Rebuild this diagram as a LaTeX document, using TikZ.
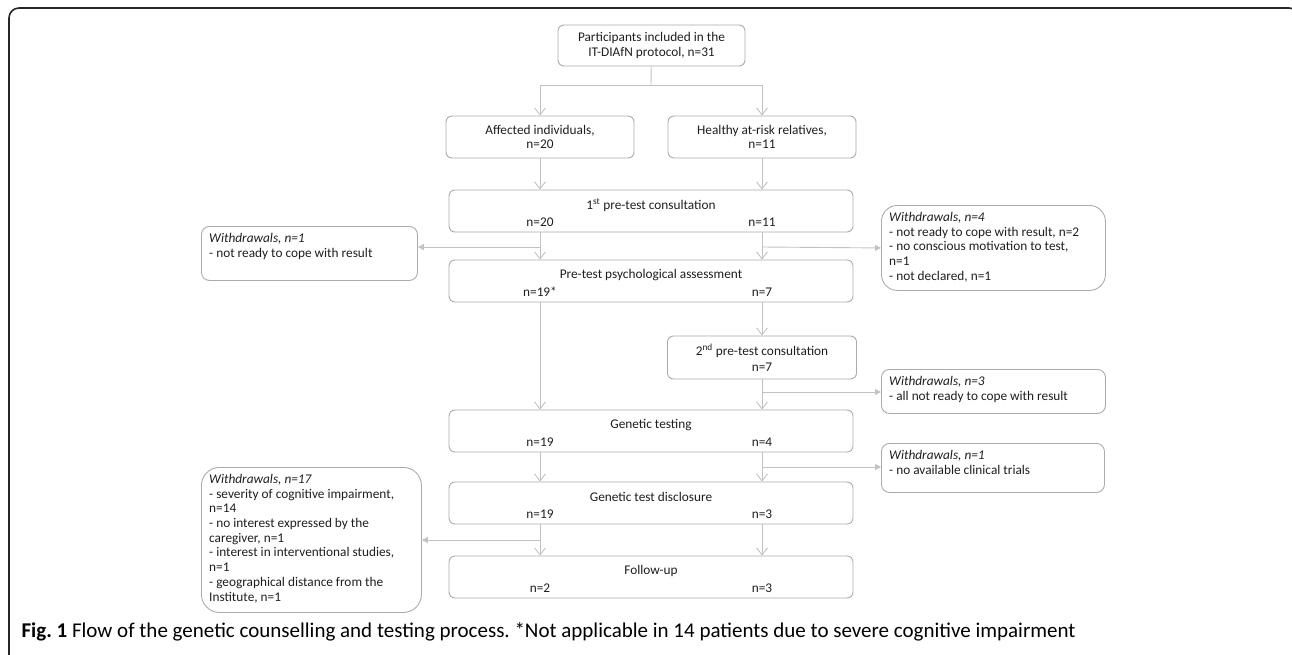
\documentclass[tikz,border=0pt]{standalone}
\usepackage{fontspec}
\setmainfont{Carlito}
\usetikzlibrary{arrows.meta}
\definecolor{boxgray}{HTML}{ABABAB}
\definecolor{linegray}{HTML}{C2C2C2}
\definecolor{textgray}{HTML}{1E1E1E}
\frenchspacing

\begin{document}
\begin{tikzpicture}[x=1pt,y=-1pt,
  every node/.style={font=\fontsize{13.3}{14.7}\selectfont,text=textgray},
  box/.style={draw=boxgray,line width=0.9pt,rounded corners=6pt,inner sep=0pt},
  wbox/.style={draw=boxgray,line width=0.9pt,rounded corners=8pt,inner sep=0pt,anchor=north west},
  wtext/.style={anchor=north west,align=left,inner sep=0pt},
  down/.style={draw=linegray,line width=0.9pt,-{Straight Barb[length=7pt,width=11pt]}},
  side/.style={draw=linegray,line width=0.9pt,-{Triangle[length=6pt,width=6pt]}},
  plain/.style={draw=linegray,line width=0.9pt}]
\useasboundingbox (0,0) rectangle (1292,655);
\draw[line width=1.6pt,black!85,rounded corners=10pt] (9,664) -- (9,8) -- (1299,8) -- (1299,664);

\node[box,minimum width=187pt,minimum height=41pt,align=center] (inc) at (651.5,45.5) {Participants included in the\\IT-DIAfN protocol, n=31};
\node[box,minimum width=188pt,minimum height=42pt,align=center] (aff) at (540,137) {Affected individuals,\\n=20};
\node[box,minimum width=188pt,minimum height=42pt,align=center] (hea) at (762,137) {Healthy at-risk relatives,\\n=11};

\node[box,minimum width=404pt,minimum height=42pt] (pc1) at (651,211) {};
\node (pc1t) at (651,205) {1\textsuperscript{st} pre-test consultation};
\node (pc1a) at (540,222) {n=20};
\node (pc1b) at (762,222) {n=11};

\node[box,minimum width=404pt,minimum height=42pt] (psy) at (651,281) {};
\node (psyt) at (651,275) {Pre-test psychological assessment};
\node (psya) at (540,292) {n=19*};
\node (psyb) at (762,292) {n=7};

\node[box,minimum width=189pt,minimum height=43pt] (pc2) at (762,357.5) {};
\node (pc2t) at (762,351) {2\textsuperscript{nd} pre-test consultation};
\node (pc2b) at (762,367) {n=7};

\node[box,minimum width=404pt,minimum height=42pt] (gen) at (651,431) {};
\node (gent) at (651,425) {Genetic testing};
\node (gena) at (540,442) {n=19};
\node (genb) at (762,442) {n=4};

\node[box,minimum width=404pt,minimum height=42pt] (dis) at (651,503) {};
\node (dist) at (651,497) {Genetic test disclosure};
\node (disa) at (540,514) {n=19};
\node (disb) at (762,514) {n=3};

\node[box,minimum width=404pt,minimum height=42pt] (fol) at (651,577) {};
\node (folt) at (651,571) {Follow-up};
\node (fola) at (540,588) {n=2};
\node (folb) at (762,588) {n=3};

\node[wbox,minimum width=216pt,minimum height=54pt] (w1l) at (201,226) {};
\node[wtext] (w1lt) at (209,233) {\textit{Withdrawals, n=1}\\- not ready to cope with result};
\node[wbox,rounded corners=16pt,minimum width=224pt,minimum height=85pt] (w4) at (881,205) {};
\node[wtext] (w4t) at (889,212) {\textit{Withdrawals, n=4}\\- not ready to cope with result, n=2\\- no conscious motivation to test,\\n=1\\- not declared, n=1};
\node[wbox,minimum width=224pt,minimum height=44pt] (w3) at (881,369) {};
\node[wtext] (w3t) at (889,376) {\textit{Withdrawals, n=3}\\- all not ready to cope with result};
\node[wbox,minimum width=223pt,minimum height=49pt] (w1r) at (881,443) {};
\node[wtext] (w1rt) at (889,450) {\textit{Withdrawals, n=1}\\- no available clinical trials};
\node[wbox,rounded corners=18pt,minimum width=220pt,minimum height=145pt] (w17) at (201,467) {};
\node[wtext] (w17t) at (209,474) {\textit{Withdrawals, n=17}\\- severity of cognitive impairment,\\n=14\\- no interest expressed by the\\caregiver, n=1\\- interest in interventional studies,\\n=1\\- geographical distance from the\\Institute, n=1};

\coordinate (split) at (651,85);
\coordinate (b1) at (540,247);
\coordinate (b2) at (762,247);
\coordinate (b3) at (762,392);
\coordinate (b4) at (762,467);
\coordinate (b5) at (540,540);

\path[plain] (inc) -- (split);
\path[down] (split) -| (aff.north);
\path[down] (split) -| (hea.north);
\path[down] (aff) -- (aff |- pc1.north);
\path[down] (hea) -- (hea |- pc1.north);
\path[down] (pc1.south -| pc1a) -- (psy.north -| pc1a);
\path[down] (pc1.south -| pc1b) -- (psy.north -| pc1b);
\path[side] (b1) -- (b1 -| w1l.east);
\path[side] (b2) -- (w4.west);
\path[down] (psy.south -| psya) -- (gen.north -| psya);
\path[down] (psy.south -| psyb) -- (pc2.north);
\path[down] (pc2) -- (pc2 |- gen.north);
\path[side] (b3) -- (b3 -| w3.west);
\path[down] (gen.south -| gena) -- (dis.north -| gena);
\path[down] (gen.south -| genb) -- (dis.north -| genb);
\path[side] (b4) -- (b4 -| w1r.west);
\path[down] (dis.south -| disa) -- (fol.north -| disa);
\path[down] (dis.south -| disb) -- (fol.north -| disb);
\path[side] (b5) -- (b5 -| w17.east);

\node[anchor=base west,font=\fontsize{21}{25}\selectfont,text=black] (cap) at (18,637) {\textbf{Fig. 1} Flow of the genetic counselling and testing process. *Not applicable in 14 patients due to severe cognitive impairment};
\end{tikzpicture}
\end{document}
